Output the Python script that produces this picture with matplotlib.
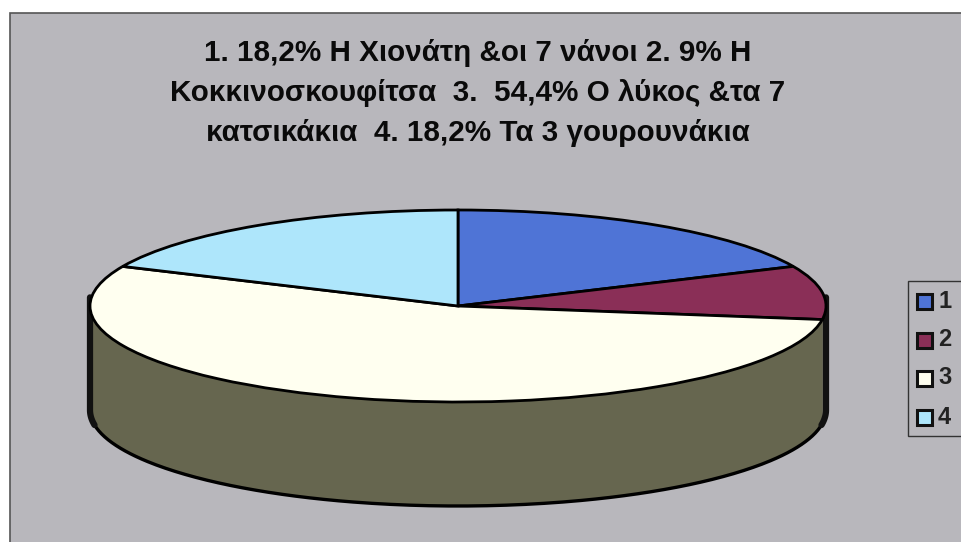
import numpy as np
import matplotlib
matplotlib.use("Agg")
import matplotlib.pyplot as plt
from matplotlib.patches import Rectangle

labels = ["1", "2", "3", "4"]
values = [18.2, 9.0, 54.4, 18.2]
top_colors = ["#4f74d6", "#8a2f57", "#fffff0", "#aee6fb"]
side_colors = ["#2a3d70", "#45182c", "#66664f", "#577380"]
title = ("1. 18,2% Η Χιονάτη &οι 7 νάνοι 2. 9% Η\n"
         "Κοκκινοσκουφίτσα  3.  54,4% Ο λύκος &τα 7\n"
         "κατσικάκια  4. 18,2% Τα 3 γουρουνάκια")

W, H = 961, 542
CX, CY, RX, RY, DEPTH = 458, 306, 368, 96, 104
BG = "#b8b7bc"

plt.rcParams["font.family"] = ["Liberation Sans", "DejaVu Sans"]
fig = plt.figure(figsize=(W / 100, H / 100), dpi=100, facecolor="white")

ov = fig.add_axes([0, 0, 1, 1], zorder=3)
ov.set_xlim(0, W); ov.set_ylim(H, 0); ov.axis("off")

bgax = fig.add_axes([0, 0, 1, 1], zorder=0)
bgax.set_xlim(0, W); bgax.set_ylim(H, 0); bgax.axis("off")
bgax.add_patch(Rectangle((10, 13), 960, 540, fc=BG, ec="#555555", lw=1.2))

ax = fig.add_axes([0, 0, 1, 1], zorder=1)
d = DEPTH / RY
fr = np.array(values) / sum(values)
edges = 90 - 360 * np.concatenate([[0], np.cumsum(fr)])

for i, c in enumerate(side_colors):
    a0, a1 = edges[i + 1], edges[i]
    t = np.radians(np.linspace(a0, a1, 200))
    t = t[np.sin(t) <= 0]
    if t.size:
        ax.fill_between(np.cos(t), np.sin(t), np.sin(t) - d, color=c, lw=0, zorder=1)
t = np.radians(np.linspace(180, 360, 300))
ax.plot(np.cos(t), np.sin(t) - d, color="black", lw=2.4, zorder=2)
# thick dark bands down both ends of the wall, following the lower rim
t_end = np.radians(np.linspace(0, 9, 20))
for sx in (-1, 1):
    bx = np.concatenate([[sx, sx], sx * np.cos(t_end)])
    by = np.concatenate([[0.09, -d], -d - np.sin(t_end)])
    ax.plot(bx, by, color="#111111", lw=4.5, zorder=2, solid_capstyle="round")

wedges, _ = ax.pie(values, colors=top_colors, startangle=90, counterclock=False,
                   radius=1, wedgeprops=dict(edgecolor="black", linewidth=2.0))
for w in wedges:
    w.set_zorder(3)
ax.set_aspect("auto")
ax.set_xlim((0 - CX) / RX, (W - CX) / RX)
ax.set_ylim((CY - H) / RY, CY / RY)
ax.axis("off")

ov.text(478, 93, title, ha="center", va="center", fontsize=21.3, fontweight="bold",
        color="#0a0a0a", linespacing=1.55)

ov.add_patch(Rectangle((908, 281), 60, 155, fc=BG, ec="#333333", lw=1))
for lab, col, y in zip(labels, top_colors, [301, 340, 378, 417]):
    ov.add_patch(Rectangle((917, y - 7.5), 15, 15, fc=col, ec="#111111", lw=2.2))
    ov.text(938, y, lab, ha="left", va="center", fontsize=17, fontweight="bold", color="#222222")

fig.savefig("out.png", dpi=100, facecolor="white")
